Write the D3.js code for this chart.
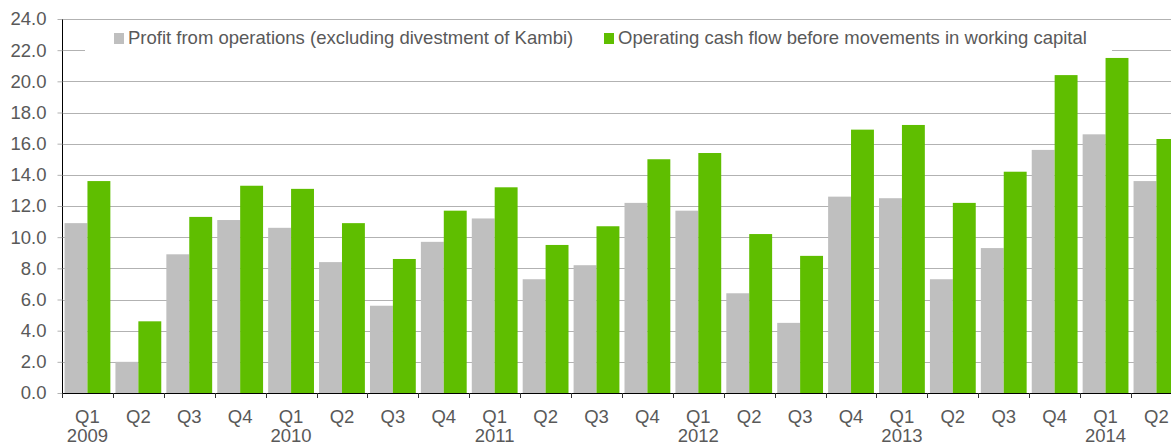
<!DOCTYPE html>
<html>
<head>
<meta charset="utf-8">
<script src="https://cdn.jsdelivr.net/npm/d3@7"></script>
<style>
  body { margin: 0; background: #fff; }
  svg { display: block; font-family: "Liberation Sans", Arial, sans-serif; }
</style>
</head>
<body>
<div id="chart"></div>
<script>
const quarters = ["Q1", "Q2", "Q3", "Q4", "Q1", "Q2", "Q3", "Q4", "Q1", "Q2", "Q3", "Q4",
                  "Q1", "Q2", "Q3", "Q4", "Q1", "Q2", "Q3", "Q4", "Q1", "Q2"];
const years = ["2009", "", "", "", "2010", "", "", "", "2011", "", "", "", "2012", "", "", "",
               "2013", "", "", "", "2014", ""];
const profit = [10.9, 2.0, 8.9, 11.1, 10.6, 8.4, 5.6, 9.7, 11.2, 7.3, 8.2, 12.2,
                11.7, 6.4, 4.5, 12.6, 12.5, 7.3, 9.3, 15.6, 16.6, 13.6];
const cashFlow = [13.6, 4.6, 11.3, 13.3, 13.1, 10.9, 8.6, 11.7, 13.2, 9.5, 10.7, 15.0,
                  15.4, 10.2, 8.8, 16.9, 17.2, 12.2, 14.2, 20.4, 21.5, 16.3];
const seriesNames = ["Profit from operations (excluding divestment of Kambi)",
                     "Operating cash flow before movements in working capital"];
const seriesColors = ["#bfbfbf", "#5fbe00"];
const yTicks = [0, 2, 4, 6, 8, 10, 12, 14, 16, 18, 20, 22, 24];

const W = 1171, H = 444;
const plotLeft = 62, plotBottom = 393, plotTop = 19;
const plotRight = plotLeft + 22 * 50.905;
const gridColor = "#b2b2b2";

const svg = d3.select("#chart").append("svg")
    .attr("width", W)
    .attr("height", H);

const ids = quarters.map((q, i) => i);

const x0 = d3.scaleBand()
    .domain(ids)
    .range([plotLeft, plotRight])
    .paddingInner(0.1)
    .paddingOuter(0.05);

const x1 = d3.scaleBand()
    .domain([0, 1])
    .range([0, x0.bandwidth()]);

const y = d3.scaleLinear()
    .domain([0, 24])
    .range([plotBottom, plotTop]);

// gridlines
svg.append("g")
    .selectAll("line")
    .data(yTicks.filter(d => d > 0))
    .enter().append("line")
    .attr("x1", plotLeft)
    .attr("x2", W)
    .attr("y1", d => Math.round(y(d)) + 0.5)
    .attr("y2", d => Math.round(y(d)) + 0.5)
    .attr("stroke", gridColor)
    .attr("stroke-width", 1);

// legend box covers the 22 line
svg.append("rect")
    .attr("x", 85)
    .attr("y", 23)
    .attr("width", 1112 - 85)
    .attr("height", 32)
    .attr("fill", "#fff");

// bars
const groups = svg.append("g")
    .selectAll("g")
    .data(ids)
    .enter().append("g")
    .attr("transform", d => `translate(${x0(d)},0)`);

groups.append("rect")
    .attr("x", x1(0))
    .attr("y", d => y(profit[d]))
    .attr("width", x1.bandwidth())
    .attr("height", d => y(0) - y(profit[d]))
    .attr("fill", seriesColors[0]);

groups.append("rect")
    .attr("x", x1(1))
    .attr("y", d => y(cashFlow[d]))
    .attr("width", x1.bandwidth())
    .attr("height", d => y(0) - y(cashFlow[d]))
    .attr("fill", seriesColors[1]);

// y axis
const yAxis = svg.append("g")
    .attr("transform", `translate(${plotLeft + 0.5},0)`)
    .call(d3.axisLeft(y).tickValues(yTicks).tickSize(5).tickPadding(11).tickFormat(d3.format(".1f")));
yAxis.select(".domain").attr("stroke", "#000").attr("d", `M0,${plotTop}V${plotBottom}`);
yAxis.selectAll(".tick line").attr("stroke", gridColor);
yAxis.selectAll(".tick text")
    .attr("fill", "#595959")
    .style("font-size", "18.5px")
    .style("font-family", "'Liberation Sans', Arial, sans-serif");

// x axis
const step = x0.step();
const half = (step - x0.bandwidth()) / 2;
const xg = svg.append("g");
xg.append("line")
    .attr("x1", plotLeft)
    .attr("x2", W)
    .attr("y1", plotBottom + 0.5)
    .attr("y2", plotBottom + 0.5)
    .attr("stroke", "#000");
xg.selectAll(".xt")
    .data(ids)
    .enter().append("line")
    .attr("class", "xt")
    .attr("x1", d => Math.round(x0(d) - half) + 0.5)
    .attr("x2", d => Math.round(x0(d) - half) + 0.5)
    .attr("y1", plotBottom)
    .attr("y2", plotBottom + 5)
    .attr("stroke", "#333");
xg.selectAll(".ql")
    .data(ids)
    .enter().append("text")
    .attr("class", "ql")
    .attr("x", d => x0(d) + x0.bandwidth() / 2)
    .attr("y", 422.5)
    .attr("text-anchor", "middle")
    .attr("fill", "#595959")
    .style("font-size", "18.5px")
    .text(d => quarters[d]);
xg.selectAll(".yl")
    .data(ids.filter(d => years[d]))
    .enter().append("text")
    .attr("class", "yl")
    .attr("x", d => x0(d) + x0.bandwidth() / 2)
    .attr("y", 442)
    .attr("text-anchor", "middle")
    .attr("fill", "#595959")
    .style("font-size", "18.5px")
    .text(d => years[d]);

// legend
const legendX = [114, 604];
seriesNames.forEach((name, i) => {
    svg.append("rect")
        .attr("x", legendX[i])
        .attr("y", 33)
        .attr("width", 10)
        .attr("height", 11)
        .attr("fill", seriesColors[i]);
    svg.append("text")
        .attr("x", legendX[i] + 14)
        .attr("y", 44)
        .attr("fill", "#595959")
        .style("font-size", "18.5px")
        .text(name);
});
</script>
</body>
</html>
